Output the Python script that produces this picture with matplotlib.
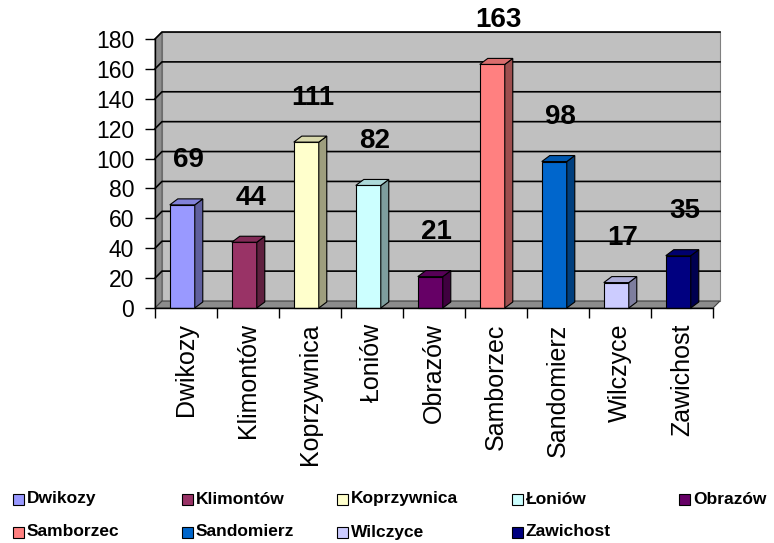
import matplotlib
matplotlib.use("Agg")
import matplotlib.pyplot as plt
import matplotlib.colors as mcolors
from matplotlib.patches import Polygon, Rectangle
import numpy as np

# data
towns = ["Dwikozy", "Klimontów", "Koprzywnica", "Łoniów", "Obrazów",
         "Samborzec", "Sandomierz", "Wilczyce", "Zawichost"]
counts = [69, 44, 111, 82, 21, 163, 98, 17, 35]
colors = ["#9999FF", "#993366", "#FFFFCC", "#CCFFFF", "#660066",
          "#FF8080", "#0066CC", "#CCCCFF", "#000080"]
yticks = np.arange(0, 181, 20)

plt.rcParams["font.family"] = ["Liberation Sans", "DejaVu Sans"]

W, H = 774, 543
fig = plt.figure(figsize=(W / 100, H / 100), dpi=100)
ax = fig.add_axes([155 / W, 1 - 308 / H, (713 - 155) / W, (308 - 39) / H])
ax.set_xlim(-0.5, 8.5)
ax.set_ylim(0, 180)
ax.patch.set_visible(False)

# depth of the fake 3d walls, in data units
px_x = 558 / 9.0
px_y = 269 / 180.0
dx = 7 / px_x
dy = 7 / px_y

x0, x1 = -0.5, 8.5
back = Polygon([(x0 + dx, dy), (x1 + dx, dy), (x1 + dx, 180 + dy), (x0 + dx, 180 + dy)],
               closed=True, facecolor="#C0C0C0", edgecolor="#808080", lw=0.8,
               clip_on=False, zorder=0)
left = Polygon([(x0, 0), (x0 + dx, dy), (x0 + dx, 180 + dy), (x0, 180)],
               closed=True, facecolor="#8C8C8C", edgecolor="#606060", lw=0.8,
               clip_on=False, zorder=0)
floor = Polygon([(x0, 0), (x1, 0), (x1 + dx, dy), (x0 + dx, dy)],
                closed=True, facecolor="#8C8C8C", edgecolor="#404040", lw=0.8,
                clip_on=False, zorder=0)
for p in (back, left, floor):
	ax.add_patch(p)

for y in yticks[1:]:
	ax.plot([x0, x0 + dx, x1 + dx], [y, y + dy, y + dy], color="black",
	        lw=1.2, clip_on=False, zorder=1)


def shade(c, f):
	r, g, b = mcolors.to_rgb(c)
	return (r * f, g * f, b * f)


# bars
bw = 25 / px_x
bdx = 8 / px_x
bdy = 6 / px_y
for i, (v, c) in enumerate(zip(counts, colors)):
	xl = i - 0.06 - bw / 2
	xr = xl + bw
	ax.add_patch(Rectangle((xl, 0), bw, v, facecolor=c, edgecolor="black",
	                       lw=0.8, zorder=3, clip_on=False))
	ax.add_patch(Polygon([(xr, 0), (xr + bdx, bdy), (xr + bdx, v + bdy), (xr, v)],
	                     closed=True, facecolor=shade(c, 0.62), edgecolor="black",
	                     lw=0.8, zorder=3, clip_on=False))
	ax.add_patch(Polygon([(xl, v), (xr, v), (xr + bdx, v + bdy), (xl + bdx, v + bdy)],
	                     closed=True, facecolor=shade(c, 0.85), edgecolor="black",
	                     lw=0.8, zorder=3, clip_on=False))
	ax.annotate(str(v), (i, v), xytext=(2, 32), textcoords="offset points",
	            ha="center", va="center", fontsize=20, fontweight="bold",
	            annotation_clip=False)

for s in ("top", "right"):
	ax.spines[s].set_visible(False)
for s in ("left", "bottom"):
	ax.spines[s].set_color("black")
	ax.spines[s].set_linewidth(1.0)
	ax.spines[s].set_zorder(4)

ax.set_yticks(yticks)
ax.tick_params(axis="y", length=7, width=1, pad=8, labelsize=16.5)
ax.set_xticks(range(len(towns)))
ax.set_xticklabels(towns, rotation=90)
ax.tick_params(axis="x", which="major", length=0, pad=11, labelsize=18)
ax.set_xticks(np.arange(-0.5, 9, 1), minor=True)
ax.tick_params(axis="x", which="minor", length=7, width=1)

# legend drawn by hand, two rows like the original
leg_x = [13, 182, 337, 512, 679, 13, 182, 337, 512]
leg_y = [499] * 5 + [532] * 4
for name, c, lx, ly in zip(towns, colors, leg_x, leg_y):
	fig.add_artist(Rectangle((lx / W, 1 - (ly + 5.5) / H), 11 / W, 11 / H,
	                         transform=fig.transFigure, facecolor=c,
	                         edgecolor="black", lw=0.8))
	fig.text((lx + 14) / W, 1 - ly / H, name, va="center", ha="left",
	         fontsize=12.5, fontweight="bold")

fig.savefig("out.png", dpi=100)
